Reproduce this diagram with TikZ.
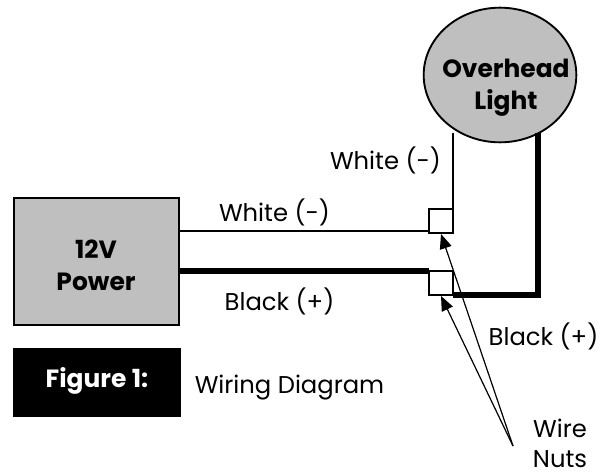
\documentclass[tikz,border=0pt]{standalone}
\usepackage{fontspec}
\setmainfont{Poppins}
\usetikzlibrary{arrows.meta,shapes.geometric}
\tikzset{
  px/.style={x=0.75pt,y=-0.75pt},
  thinw/.style={line width=1.5pt},
  thickw/.style={line width=3.8pt},
  lab/.style={font=\fontsize{18.2}{24.75}\selectfont,inner sep=0pt,anchor=base},
  head/.style={font=\fontsize{18.7}{24.5}\selectfont\bfseries,align=center,inner sep=0pt,anchor=base},
  nut/.style={draw=black,line width=1.5pt,fill=white,minimum size=18pt,inner sep=0pt},
  pointer/.style={line width=0.9pt,-{Triangle[length=11pt,width=9pt]}}
}
\begin{document}
\begin{tikzpicture}[px]
\useasboundingbox (0,0) rectangle (614,474);
\node[draw=black,line width=1.5pt,fill=black!25,minimum width=124pt,minimum height=94.5pt,inner sep=0pt] (power) at (96.5,261.5) {};
\node[head] (powert) at (96,258) {12V};
\node[head] (powerb) at (96,290) {Power};
\node[draw=black,line width=1.4pt,fill=black!25,ellipse,minimum width=114.5pt,minimum height=101pt,inner sep=0pt] (light) at (500,75) {};
\node[head] (lightt) at (506,78) {Overhead};
\node[head] (lightb) at (506,110) {Light};
\node[nut] (nuta) at (441,221) {};
\node[nut] (nutb) at (441,283) {};
\coordinate (pa) at (180,231);
\coordinate (pb) at (180,271);
\coordinate (la) at (453,133);
\coordinate (lb) at (538,133);
\coordinate (cb) at (538,295);
\coordinate (na) at (453,209);
\coordinate (nb) at (453,295);
\coordinate (nal) at (429,231);
\coordinate (nbl) at (429,271);
\draw[thinw] (pa) -- (nal);
\draw[thickw] (pb) -- (nbl);
\draw[thinw] (la) -- (na);
\draw[thickw,line join=miter] (lb) -- (cb) -- (nb);
\node[fill=black,minimum width=126pt,minimum height=52pt,inner sep=0pt] (fig) at (97,382.5) {};
\node[head,text=white] (figt) at (97,387) {Figure 1:};
\node[lab] (wd) at (289.5,393) {Wiring Diagram};
\node[lab] (w1) at (274.5,222) {White (-)};
\node[lab] (w2) at (385.5,170) {White (-)};
\node[lab] (b1) at (279.5,310) {Black (+)};
\node[lab] (b2) at (543.5,345) {Black (+)};
\node[lab] (wn1) at (560,437) {Wire};
\node[lab] (wn2) at (560,467) {Nuts};
\coordinate (ptr) at (513,446);
\draw[pointer] (ptr) -- (nuta.south);
\draw[pointer] (ptr) -- (nutb.south);
\end{tikzpicture}
\end{document}
